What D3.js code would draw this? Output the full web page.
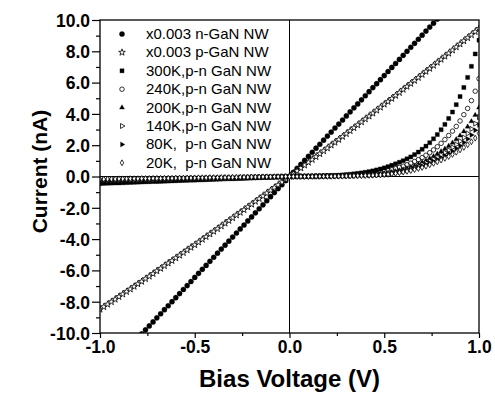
<!DOCTYPE html>
<html>
<head>
<meta charset="utf-8">
<script src="https://cdn.jsdelivr.net/npm/d3@7"></script>
<style>
  body { margin: 0; background: #fff; }
  text { font-family: "Liberation Sans", Arial, sans-serif; fill: #000; }
</style>
</head>
<body>
<script>
var width = 495, height = 393;
const margin = {left: 100, right: 16, top: 20, bottom: 60};

// bias voltage grid, -1.00 .. 1.00 V in 0.02 V steps (101 points)
const biasV = d3.range(101).map(i => +(-1 + i * 0.02).toFixed(2));

// currents in nA, one row = 10 points (0.2 V)
const nGaN = [
  -12.90,-12.64,-12.38,-12.13,-11.87,-11.61,-11.35,-11.09,-10.84,-10.58,
  -10.32,-10.06,-9.80,-9.55,-9.29,-9.03,-8.77,-8.51,-8.26,-8.00,
  -7.74,-7.48,-7.22,-6.97,-6.71,-6.45,-6.19,-5.93,-5.68,-5.42,
  -5.16,-4.90,-4.64,-4.39,-4.13,-3.87,-3.61,-3.35,-3.10,-2.84,
  -2.58,-2.32,-2.06,-1.81,-1.55,-1.29,-1.03,-0.77,-0.52,-0.26,
  0.00,0.26,0.52,0.77,1.03,1.29,1.55,1.81,2.06,2.32,
  2.58,2.84,3.10,3.35,3.61,3.87,4.13,4.39,4.64,4.90,
  5.16,5.42,5.68,5.93,6.19,6.45,6.71,6.97,7.22,7.48,
  7.74,8.00,8.26,8.51,8.77,9.03,9.29,9.55,9.80,10.06,
  10.32,10.58,10.84,11.09,11.35,11.61,11.87,12.13,12.38,12.64,
  12.90];
const pGaN = [
  -8.49,-8.33,-8.17,-8.01,-7.85,-7.68,-7.52,-7.36,-7.20,-7.03,
  -6.87,-6.71,-6.54,-6.38,-6.21,-6.04,-5.88,-5.71,-5.54,-5.38,
  -5.21,-5.04,-4.87,-4.70,-4.53,-4.37,-4.20,-4.02,-3.85,-3.68,
  -3.51,-3.34,-3.17,-2.99,-2.82,-2.65,-2.47,-2.30,-2.13,-1.95,
  -1.78,-1.60,-1.42,-1.25,-1.07,-0.89,-0.71,-0.54,-0.36,-0.18,
  0.00,0.18,0.36,0.54,0.72,0.90,1.08,1.26,1.45,1.63,
  1.81,2.00,2.18,2.36,2.55,2.73,2.92,3.11,3.29,3.48,
  3.67,3.85,4.04,4.23,4.42,4.61,4.79,4.98,5.17,5.36,
  5.56,5.75,5.94,6.13,6.32,6.51,6.71,6.90,7.09,7.29,
  7.48,7.68,7.87,8.07,8.27,8.46,8.66,8.86,9.05,9.25,
  9.45];
const pn300 = [
  -0.45,-0.44,-0.43,-0.42,-0.41,-0.41,-0.40,-0.39,-0.38,-0.37,
  -0.36,-0.35,-0.34,-0.33,-0.32,-0.32,-0.31,-0.30,-0.29,-0.28,
  -0.27,-0.26,-0.25,-0.24,-0.23,-0.23,-0.22,-0.21,-0.20,-0.19,
  -0.18,-0.17,-0.16,-0.15,-0.14,-0.14,-0.13,-0.12,-0.11,-0.10,
  -0.09,-0.08,-0.07,-0.06,-0.05,-0.05,-0.04,-0.03,-0.02,-0.01,
  0.00,0.00,0.01,0.01,0.01,0.02,0.02,0.03,0.03,0.04,
  0.05,0.06,0.07,0.08,0.10,0.12,0.14,0.17,0.20,0.23,
  0.27,0.31,0.36,0.42,0.48,0.55,0.63,0.72,0.81,0.91,
  1.01,1.13,1.25,1.40,1.56,1.74,1.94,2.16,2.41,2.68,
  2.99,3.33,3.71,4.12,4.59,5.11,5.69,6.33,7.04,7.83,
  8.71];
const pn240 = [
  -0.38,-0.37,-0.36,-0.36,-0.35,-0.34,-0.33,-0.33,-0.32,-0.31,
  -0.30,-0.30,-0.29,-0.28,-0.27,-0.27,-0.26,-0.25,-0.24,-0.24,
  -0.23,-0.22,-0.21,-0.21,-0.20,-0.19,-0.18,-0.18,-0.17,-0.16,
  -0.15,-0.14,-0.14,-0.13,-0.12,-0.11,-0.11,-0.10,-0.09,-0.08,
  -0.08,-0.07,-0.06,-0.05,-0.05,-0.04,-0.03,-0.02,-0.02,-0.01,
  0.00,0.00,0.00,0.01,0.01,0.01,0.01,0.02,0.02,0.03,
  0.03,0.04,0.04,0.05,0.06,0.07,0.08,0.10,0.12,0.14,
  0.16,0.18,0.21,0.24,0.28,0.32,0.37,0.43,0.50,0.58,
  0.66,0.75,0.85,0.96,1.08,1.21,1.36,1.52,1.70,1.90,
  2.12,2.36,2.62,2.90,3.20,3.55,3.95,4.35,4.85,5.45,
  6.25];
const pn200 = [
  -0.32,-0.31,-0.31,-0.30,-0.29,-0.29,-0.28,-0.27,-0.27,-0.26,
  -0.26,-0.25,-0.24,-0.24,-0.23,-0.22,-0.22,-0.21,-0.20,-0.20,
  -0.19,-0.19,-0.18,-0.17,-0.17,-0.16,-0.15,-0.15,-0.14,-0.13,
  -0.13,-0.12,-0.12,-0.11,-0.10,-0.10,-0.09,-0.08,-0.08,-0.07,
  -0.06,-0.06,-0.05,-0.04,-0.04,-0.03,-0.03,-0.02,-0.01,-0.01,
  0.00,0.00,0.00,0.00,0.01,0.01,0.01,0.01,0.02,0.02,
  0.02,0.03,0.03,0.04,0.04,0.05,0.06,0.07,0.08,0.09,
  0.10,0.11,0.12,0.14,0.16,0.19,0.23,0.27,0.32,0.38,
  0.44,0.51,0.59,0.68,0.79,0.90,1.02,1.15,1.29,1.44,
  1.60,1.77,1.95,2.15,2.37,2.61,2.88,3.18,3.52,3.92,
  4.40];
const pn140 = [
  -0.27,-0.26,-0.26,-0.25,-0.25,-0.24,-0.24,-0.23,-0.23,-0.22,
  -0.22,-0.21,-0.21,-0.20,-0.20,-0.19,-0.18,-0.18,-0.17,-0.17,
  -0.16,-0.16,-0.15,-0.15,-0.14,-0.14,-0.13,-0.13,-0.12,-0.12,
  -0.11,-0.10,-0.10,-0.09,-0.09,-0.08,-0.08,-0.07,-0.07,-0.06,
  -0.05,-0.05,-0.04,-0.04,-0.03,-0.03,-0.02,-0.02,-0.01,-0.01,
  0.00,0.00,0.00,0.00,0.00,0.01,0.01,0.01,0.01,0.02,
  0.02,0.02,0.03,0.03,0.04,0.04,0.05,0.06,0.07,0.08,
  0.09,0.10,0.11,0.12,0.14,0.16,0.19,0.23,0.27,0.32,
  0.37,0.43,0.50,0.58,0.67,0.77,0.87,0.98,1.10,1.23,
  1.37,1.52,1.68,1.86,2.05,2.26,2.49,2.75,3.04,3.38,
  3.80];
const pn80 = [
  -0.22,-0.22,-0.21,-0.21,-0.20,-0.20,-0.19,-0.19,-0.18,-0.18,
  -0.18,-0.17,-0.17,-0.16,-0.16,-0.15,-0.15,-0.14,-0.14,-0.14,
  -0.13,-0.13,-0.12,-0.12,-0.11,-0.11,-0.11,-0.10,-0.10,-0.09,
  -0.09,-0.08,-0.08,-0.07,-0.07,-0.07,-0.06,-0.06,-0.05,-0.05,
  -0.04,-0.04,-0.04,-0.03,-0.03,-0.02,-0.02,-0.01,-0.01,0.00,
  0.00,0.00,0.00,0.00,0.00,0.00,0.01,0.01,0.01,0.01,
  0.02,0.02,0.02,0.03,0.03,0.04,0.04,0.05,0.06,0.07,
  0.08,0.08,0.09,0.11,0.12,0.14,0.17,0.20,0.24,0.28,
  0.33,0.38,0.44,0.51,0.59,0.67,0.76,0.86,0.96,1.08,
  1.20,1.33,1.47,1.62,1.79,1.97,2.17,2.40,2.65,2.95,
  3.30];
const pn20 = [
  -0.17,-0.17,-0.16,-0.16,-0.16,-0.15,-0.15,-0.15,-0.14,-0.14,
  -0.14,-0.13,-0.13,-0.13,-0.12,-0.12,-0.12,-0.11,-0.11,-0.11,
  -0.10,-0.10,-0.10,-0.09,-0.09,-0.09,-0.08,-0.08,-0.08,-0.07,
  -0.07,-0.07,-0.06,-0.06,-0.06,-0.05,-0.05,-0.04,-0.04,-0.04,
  -0.03,-0.03,-0.03,-0.02,-0.02,-0.02,-0.01,-0.01,-0.01,0.00,
  0.00,0.00,0.00,0.00,0.00,0.00,0.00,0.01,0.01,0.01,
  0.01,0.01,0.02,0.02,0.02,0.03,0.03,0.04,0.05,0.05,
  0.06,0.07,0.08,0.09,0.10,0.12,0.14,0.17,0.20,0.24,
  0.28,0.33,0.38,0.44,0.51,0.58,0.66,0.75,0.84,0.94,
  1.05,1.16,1.28,1.41,1.55,1.70,1.86,2.03,2.22,2.45,
  2.75];

const seriesLabels = ["x0.003 n-GaN NW", "x0.003 p-GaN NW", "300K,p-n GaN NW", "240K,p-n GaN NW",
  "200K,p-n GaN NW", "140K,p-n GaN NW", "80K,  p-n GaN NW", "20K,  p-n GaN NW"];
const seriesValues = [nGaN, pGaN, pn300, pn240, pn200, pn140, pn80, pn20];
const xTicks = [-1.0, -0.5, 0.0, 0.5, 1.0];
const yTicks = [-10, -8, -6, -4, -2, 0, 2, 4, 6, 8, 10];

// marker look per series (same order as labels)
const markers = [
  {type: d3.symbolCircle, size: 21, fill: "#000", rot: 0},
  {type: d3.symbolStar, size: 14, fill: "#fff", rot: 0},
  {type: d3.symbolSquare, size: 17, fill: "#000", rot: 0},
  {type: d3.symbolCircle, size: 16, fill: "none", rot: 0},
  {type: d3.symbolTriangle, size: 11, fill: "#000", rot: 0},
  {type: d3.symbolTriangle, size: 11, fill: "#fff", rot: 90},
  {type: d3.symbolTriangle, size: 11, fill: "#000", rot: 90},
  {type: d3.symbolDiamond, size: 10, fill: "#fff", rot: 0}
];

const x = d3.scaleLinear().domain([-1, 1]).range([margin.left, width - margin.right]);
const y = d3.scaleLinear().domain([-10, 10]).range([height - margin.bottom, margin.top]);

var svg = d3.select("body").append("svg")
  .attr("width", width).attr("height", height);

svg.append("defs").append("clipPath").attr("id", "plotclip")
  .append("rect")
  .attr("x", x(-1)).attr("y", y(10))
  .attr("width", x(1) - x(-1)).attr("height", y(-10) - y(10));

// zero lines
svg.append("line").attr("x1", x(-1)).attr("x2", x(1)).attr("y1", y(0)).attr("y2", y(0))
  .attr("stroke", "#000").attr("stroke-width", 1);
svg.append("line").attr("x1", x(0)).attr("x2", x(0)).attr("y1", y(10)).attr("y2", y(-10))
  .attr("stroke", "#000").attr("stroke-width", 1);

// data
const plot = svg.append("g").attr("clip-path", "url(#plotclip)");
seriesValues.forEach((vals, k) => {
  const m = markers[k];
  const sym = d3.symbol().type(m.type).size(m.size);
  plot.append("g")
    .selectAll("path")
    .data(vals.map((v, i) => [biasV[i], v]))
    .join("path")
      .attr("d", sym)
      .attr("transform", d => `translate(${x(d[0])},${y(d[1])}) rotate(${m.rot})`)
      .attr("fill", m.fill)
      .attr("stroke", "#000")
      .attr("stroke-width", m.fill === "#000" ? 0.3 : 0.8);
});

// axes
const fmt = d => d.toFixed(1);
const xAxis = svg.append("g").attr("transform", `translate(0,${y(-10)})`)
  .call(d3.axisBottom(x).tickValues(xTicks).tickFormat(fmt).tickSize(5).tickPadding(3));
const xMinor = svg.append("g").attr("transform", `translate(0,${y(-10)})`)
  .call(d3.axisBottom(x).tickValues([-0.75, -0.25, 0.25, 0.75]).tickFormat("").tickSize(3));
const yAxis = svg.append("g").attr("transform", `translate(${x(-1)},0)`)
  .call(d3.axisLeft(y).tickValues(yTicks).tickFormat(fmt).tickSize(8).tickPadding(2));
const yMinor = svg.append("g").attr("transform", `translate(${x(-1)},0)`)
  .call(d3.axisLeft(y).tickValues([-9, -7, -5, -3, -1, 1, 3, 5, 7, 9]).tickFormat("").tickSize(4));
[xAxis, xMinor, yAxis, yMinor].forEach(g => {
  g.select(".domain").remove();
  g.selectAll("line").attr("stroke", "#000").attr("stroke-width", 1.2);
});
[xAxis, yAxis].forEach(g => g.selectAll("text")
  .attr("font-size", 17.5).attr("font-weight", "bold").attr("fill", "#000"));
yAxis.selectAll("text").attr("dy", "0.36em");

// frame
svg.append("rect")
  .attr("x", x(-1)).attr("y", y(10))
  .attr("width", x(1) - x(-1)).attr("height", y(-10) - y(10))
  .attr("fill", "none").attr("stroke", "#000").attr("stroke-width", 1.3);

// axis titles
svg.append("text")
  .attr("x", x(0)).attr("y", 387)
  .attr("text-anchor", "middle").attr("font-size", 24).attr("font-weight", "bold")
  .text("Bias Voltage (V)");
svg.append("text")
  .attr("transform", `translate(47,${y(0) - 5}) rotate(-90)`)
  .attr("text-anchor", "middle").attr("font-size", 21).attr("font-weight", "bold")
  .text("Current (nA)");

// legend
const legend = svg.append("g").attr("transform", "translate(122,34)");
seriesLabels.forEach((lab, k) => {
  const m = markers[k];
  const row = legend.append("g").attr("transform", `translate(0,${k * 18.4})`);
  row.append("path")
    .attr("d", d3.symbol().type(m.type).size(m.size)())
    .attr("transform", `rotate(${m.rot})`)
    .attr("fill", m.fill === "none" ? "#fff" : m.fill)
    .attr("stroke", "#000").attr("stroke-width", m.fill === "#000" ? 0.3 : 0.8);
  row.append("text")
    .attr("x", 24).attr("y", 5)
    .attr("font-size", 15)
    .attr("xml:space", "preserve")
    .style("white-space", "pre")
    .text(lab);
});
</script>
</body>
</html>
